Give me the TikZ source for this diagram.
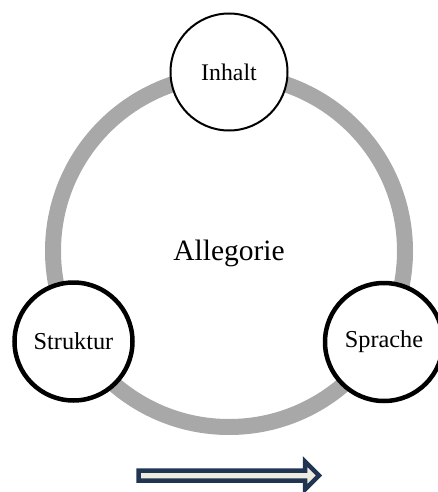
\documentclass[tikz,border=0pt]{standalone}
\usepackage{fontspec}
\setmainfont{Liberation Serif}
\definecolor{ringgray}{RGB}{168,168,168}
\definecolor{navy}{RGB}{31,53,82}
\definecolor{cream}{RGB}{238,236,225}
\begin{document}
\begin{tikzpicture}[x=1pt,y=-1pt,
  thin circ/.style={circle,draw=black,fill=white,line width=2pt,minimum size=117pt,inner sep=0pt,font=\fontsize{23.8}{26}\selectfont},
  thick circ/.style={circle,draw=black,fill=white,line width=4.5pt,minimum size=118pt,inner sep=0pt,font=\fontsize{24.3}{26}\selectfont}]
\useasboundingbox (0,0) rectangle (437,492);
\coordinate (c) at (229,251);
\draw[ringgray,line width=16pt] (c) circle[radius=176];
\node (center) at (229,253) {\fontsize{29.5}{32}\selectfont Allegorie};
\node[thin circ] (inhalt) at (229,72) {Inhalt};
\node[thick circ] (struktur) at (73.5,341.5) {Struktur};
\node[thick circ] (sprache) at (384,342) {Sprache};
\draw[navy,fill=cream,line width=4.5pt,line join=miter]
  (138.5,470.5) -- (305,470.5) -- (305,461.5) -- (319,475.5) -- (305,489.5) -- (305,480.5) -- (138.5,480.5) -- cycle;
\end{tikzpicture}
\end{document}
